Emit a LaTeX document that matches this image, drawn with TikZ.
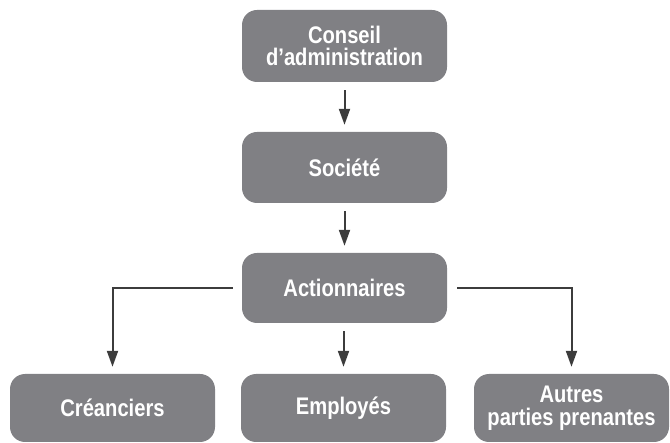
\documentclass[tikz,border=0pt]{standalone}
\usepackage{fontspec}
\setmainfont{Liberation Sans}[FakeStretch=0.84]
\usetikzlibrary{arrows.meta}
\definecolor{boxgray}{HTML}{808084}
\definecolor{linkgray}{HTML}{3C3C3C}
\begin{document}
\begin{tikzpicture}[x=1pt,y=-1pt,
  orgbox/.style={fill=boxgray, rounded corners=15pt, text=white,
    font=\fontsize{24}{22.5}\selectfont\bfseries, align=center,
    minimum width=205pt, inner sep=0pt},
  link/.style={draw=linkgray, line width=2pt,
    -{Triangle[width=11pt,length=16pt]}, shorten <=8pt, shorten >=7pt}]
  \useasboundingbox (0,0) rectangle (670,443);

  \node[orgbox, minimum height=72pt] (conseil) at (344.5,46) {Conseil\\d’administration};
  \node[orgbox, minimum height=71pt] (societe) at (344.5,167.5) {Société};
  \node[orgbox, minimum height=70pt] (action) at (344.5,288) {Actionnaires};

  \node[orgbox, minimum height=68pt] (crean) at (112.5,408) {Créanciers};
  \node[orgbox, minimum height=68pt] (employ) at (343.5,408) {Employés};
  \node[orgbox, minimum height=68pt, minimum width=195pt] (autres) at (571.5,408) {Autres\\parties prenantes};

  \draw[link] (conseil) -- (societe);
  \draw[link] (societe) -- (action);
  \draw[link] (action.south -| employ.north) -- (employ.north);
  \draw[link, shorten <=9pt] (action.west) -| (crean.north);
  \draw[link, shorten <=10pt] (action.east) -| (autres.north);
\end{tikzpicture}
\end{document}
